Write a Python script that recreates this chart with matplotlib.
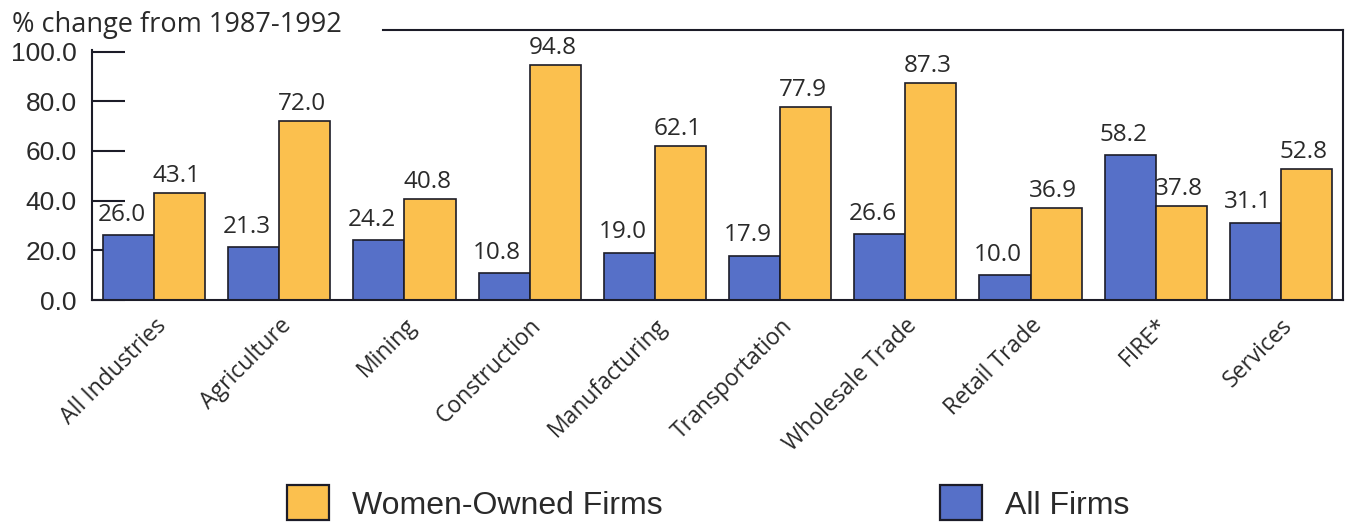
import numpy as np
import matplotlib.pyplot as plt
from matplotlib.transforms import ScaledTranslation

industries = ['All Industries', 'Agriculture', 'Mining', 'Construction', 'Manufacturing',
              'Transportation', 'Wholesale Trade', 'Retail Trade', 'FIRE*', 'Services']
all_firms = [26.0, 21.3, 24.2, 10.8, 19.0, 17.9, 26.6, 10.0, 58.2, 31.1]
women_owned = [43.1, 72.0, 40.8, 94.8, 62.1, 77.9, 87.3, 36.9, 37.8, 52.8]
yticks = [0, 20, 40, 60, 80, 100]

blue = '#5670c8'
orange = '#fbc04e'
edge = '#1c1c28'
txt = '#2a2a2a'

fig = plt.figure(figsize=(13.52, 5.25), dpi=100)
ax = fig.add_axes([92 / 1352, 225 / 525, 1251 / 1352, 270 / 525])
ax.set_axisbelow(True)

x = np.arange(len(industries))
w = 0.408
b_all = ax.bar(x - w / 2, all_firms, w, color=blue, edgecolor=edge, linewidth=1.2, label='All Firms')
b_wom = ax.bar(x + w / 2, women_owned, w, color=orange, edgecolor=edge, linewidth=1.2,
               label='Women-Owned Firms')

# value labels above each bar
for xi, v in zip(x - w / 2, all_firms):
    ax.annotate(f'{v:.1f}', (xi, v), xytext=(-5, 6), textcoords='offset points',
                ha='center', va='bottom', fontsize=17.5, family='Open Sans', color=txt)
for xi, v in zip(x + w / 2, women_owned):
    ax.annotate(f'{v:.1f}', (xi, v), xytext=(-2, 3.5), textcoords='offset points',
                ha='center', va='bottom', fontsize=17.5, family='Open Sans', color=txt)

ax.set_xlim(-0.496, len(industries) - 1 + 0.496)
ax.set_ylim(0, 108.7)

for s in ax.spines.values():
    s.set_linewidth(1.5)
    s.set_color(edge)
ax.spines['left'].set_bounds(0, 100.8)
ax.spines['top'].set_bounds(1.83, len(industries) - 1 + 0.496)

ax.set_yticks(yticks)
ax.set_yticklabels([f'{t:.1f}' for t in yticks], fontsize=19, family='Liberation Sans', color=txt)
ax.tick_params(axis='y', direction='in', length=24, width=1.5, color=edge, pad=11)

ax.set_xticks(x)
ax.set_xticklabels(industries, rotation=45, ha='right', va='top', rotation_mode='anchor',
                   fontsize=16.5, family='Open Sans', color=txt)
ax.tick_params(axis='x', length=0, pad=10)
shift = ScaledTranslation(0 / 100, 0, fig.dpi_scale_trans)
for lab in ax.get_xticklabels():
    lab.set_transform(lab.get_transform() + shift)

fig.text(12 / 1352, 1 - 32 / 525, '% change from 1987-1992', va='baseline', ha='left',
         fontsize=19.5, family='Open Sans', color=txt)

leg_kw = dict(frameon=False, handlelength=1.3, handleheight=1.3,
              handletextpad=0.75, borderpad=0, borderaxespad=0, loc='center left',
              prop={'family': 'Liberation Sans', 'size': 23})
l1 = fig.legend(handles=[b_wom], labels=['Women-Owned Firms'],
                bbox_to_anchor=(287 / 1352, 1 - 503 / 525), **leg_kw)
l2 = fig.legend(handles=[b_all], labels=['All Firms'],
                bbox_to_anchor=(940 / 1352, 1 - 503 / 525), **leg_kw)
for lg in (l1, l2):
    for t in lg.get_texts():
        t.set_color(txt)
    for p in lg.get_patches():
        p.set_linewidth(1.6)

fig.savefig('out.png', dpi=100)
